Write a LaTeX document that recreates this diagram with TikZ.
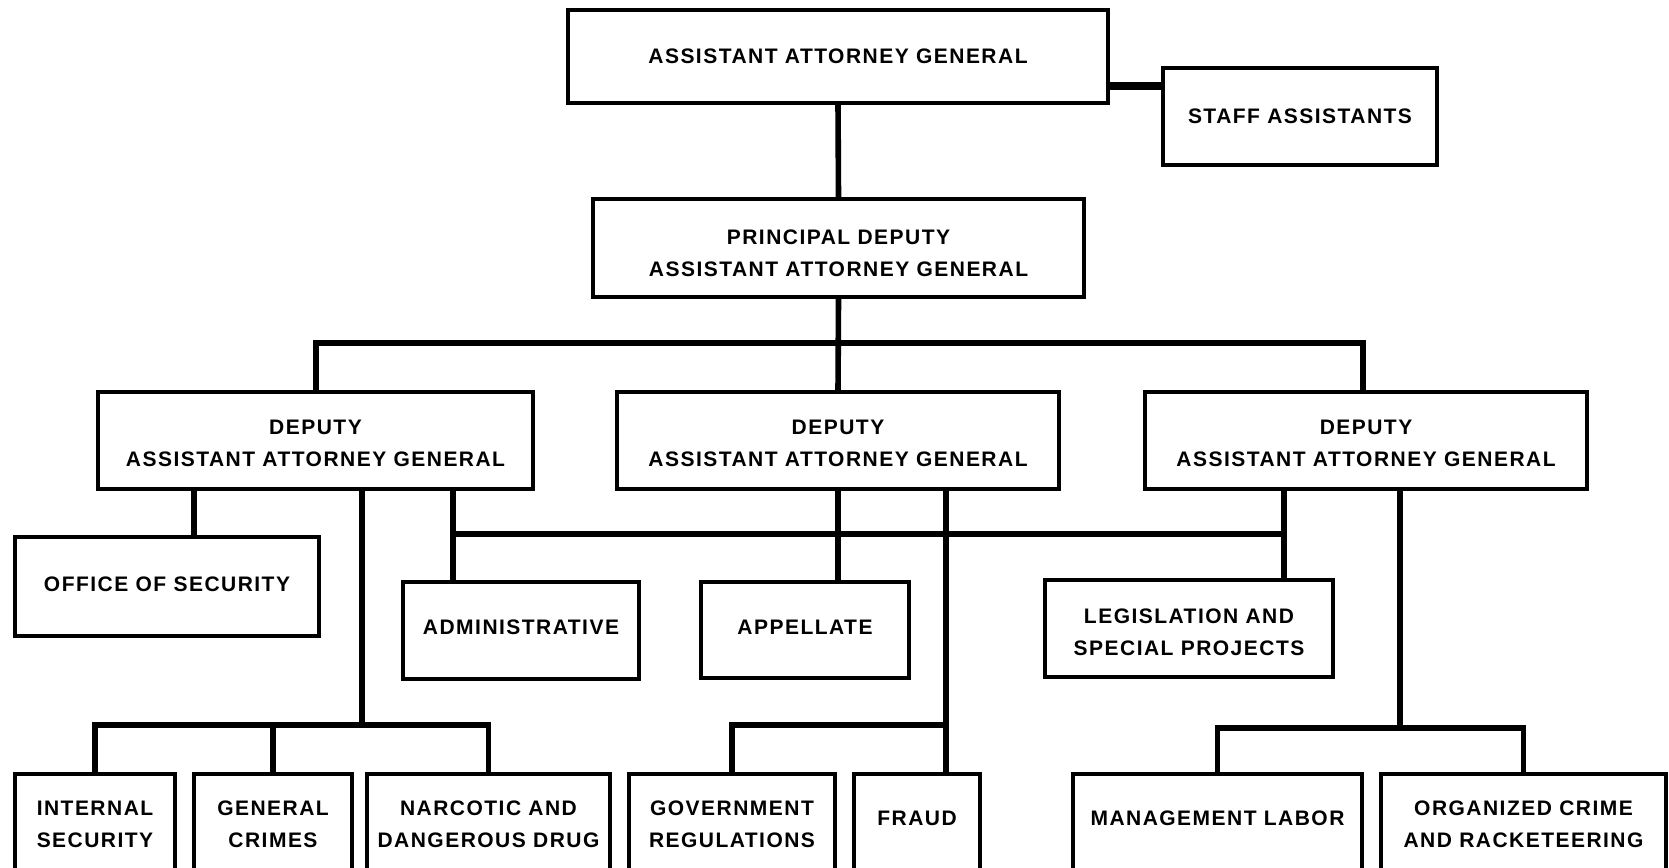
\documentclass[tikz,border=0pt]{standalone}
\usepackage{fontspec}
\newfontfamily\orgfont{Liberation Sans}[LetterSpace=7]
\newcommand{\shifted}[2]{\raisebox{#1}[\height][\depth]{\begin{tabular}{@{}c@{}}#2\end{tabular}}}
\begin{document}
\begin{tikzpicture}[x=0.5pt,y=-0.5pt,
  box/.style={draw, line width=1.8pt, inner sep=0pt, align=center, fill=white,
    font=\orgfont\bfseries\fontsize{10.5}{16}\selectfont},
  link/.style={line width=2.8pt},
  thicklink/.style={line width=3.6pt}]
\useasboundingbox (0,0) rectangle (1669,867);
\clip (0,0) rectangle (1669,867);
\fill[white] (0,0) rectangle (1669,867);

% boxes
\node[box, minimum width=270pt, minimum height=46.5pt] (aag) at (838,56.5) {ASSISTANT ATTORNEY GENERAL};
\node[box, minimum width=137pt, minimum height=48.5pt] (staff) at (1300,116.5) {STAFF ASSISTANTS};
\node[box, minimum width=245.5pt, minimum height=49pt] (pd) at (838.5,248) {\shifted{-3.2pt}{PRINCIPAL DEPUTY\\ASSISTANT ATTORNEY GENERAL}};
\node[box, minimum width=217.5pt, minimum height=48.5pt] (d1) at (315.5,440.5) {\shifted{-1.6pt}{DEPUTY\\ASSISTANT ATTORNEY GENERAL}};
\node[box, minimum width=221pt, minimum height=48.5pt] (d2) at (838,440.5) {\shifted{-1.6pt}{DEPUTY\\ASSISTANT ATTORNEY GENERAL}};
\node[box, minimum width=221pt, minimum height=48.5pt] (d3) at (1366,440.5) {\shifted{-1.6pt}{DEPUTY\\ASSISTANT ATTORNEY GENERAL}};
\node[box, minimum width=152pt, minimum height=49.5pt] (oos) at (167,586.5) {\shifted{0.5pt}{OFFICE OF SECURITY}};
\node[box, minimum width=118pt, minimum height=48.5pt] (adm) at (521,630.5) {\shifted{1.1pt}{ADMINISTRATIVE}};
\node[box, minimum width=104pt, minimum height=48pt] (app) at (805,630) {\shifted{1.1pt}{APPELLATE}};
\node[box, minimum width=144pt, minimum height=48.5pt] (leg) at (1189,628.5) {\shifted{-2.1pt}{LEGISLATION AND\\SPECIAL PROJECTS}};
\node[box, minimum width=80pt, minimum height=49pt] (intsec) at (95,823) {\shifted{-1.1pt}{INTERNAL\\SECURITY}};
\node[box, minimum width=79pt, minimum height=49pt] (gencr) at (273,823) {\shifted{-1.1pt}{GENERAL\\CRIMES}};
\node[box, minimum width=121.5pt, minimum height=49pt] (narc) at (488.5,823) {\shifted{-1.1pt}{NARCOTIC AND\\DANGEROUS DRUG}};
\node[box, minimum width=103pt, minimum height=49pt] (govreg) at (732,823) {\shifted{-1.1pt}{GOVERNMENT\\REGULATIONS}};
\node[box, minimum width=63pt, minimum height=49pt] (fraud) at (917,823) {\shifted{2.1pt}{FRAUD}};
\node[box, minimum width=144.5pt, minimum height=49pt] (mgmt) at (1217.5,823) {\shifted{2.1pt}{MANAGEMENT LABOR}};
\node[box, minimum width=142.5pt, minimum height=49pt] (orgcr) at (1523.5,823) {\shifted{-1.1pt}{ORGANIZED CRIME\\AND RACKETEERING}};

% helper coordinates
\coordinate (sl) at (0,86);
\coordinate (busA) at (0,343);
\coordinate (busB) at (0,725);
\coordinate (busC) at (0,534);
\coordinate (busD) at (0,728);
\coordinate (x1) at (316,0);
\coordinate (x3) at (1363,0);
\coordinate (xo) at (194,0);
\coordinate (xg) at (362,0);
\coordinate (xa) at (453,0);
\coordinate (xl) at (1284,0);
\coordinate (xf) at (946,0);
\coordinate (xm) at (1400,0);

% top
\draw[link] (aag.south) -- (pd.north);
\draw[thicklink] (aag.east |- sl) -- (staff.west |- sl);
% deputies
\draw[link] (pd.south) -- (d2.north);
\draw[link] (d1.north -| x1) -- (x1 |- busA) -- (x3 |- busA) -- (d3.north -| x3);
% first deputy
\draw[link] (d1.south -| xo) -- (oos.north -| xo);
\draw[link] (d1.south -| xg) -- (xg |- busB);
\draw[link] (intsec.north) -- (intsec.north |- busB) -- (narc.north |- busB) -- (narc.north);
\draw[link] (gencr.north) -- (gencr.north |- busB);
% shared bus
\draw[link] (d1.south -| xa) -- (adm.north -| xa);
\draw[link] (xa |- busC) -- (xl |- busC);
\draw[link] (d3.south -| xl) -- (leg.north -| xl);
\draw[link] (d2.south) -- (d2.south |- app.north);
% second deputy
\draw[link] (d2.south -| xf) -- (fraud.north -| xf);
\draw[link] (govreg.north) -- (govreg.north |- busB) -- (xf |- busB);
% third deputy
\draw[link] (d3.south -| xm) -- (xm |- busD);
\draw[link] (mgmt.north) -- (mgmt.north |- busD) -- (orgcr.north |- busD) -- (orgcr.north);
\end{tikzpicture}
\end{document}
